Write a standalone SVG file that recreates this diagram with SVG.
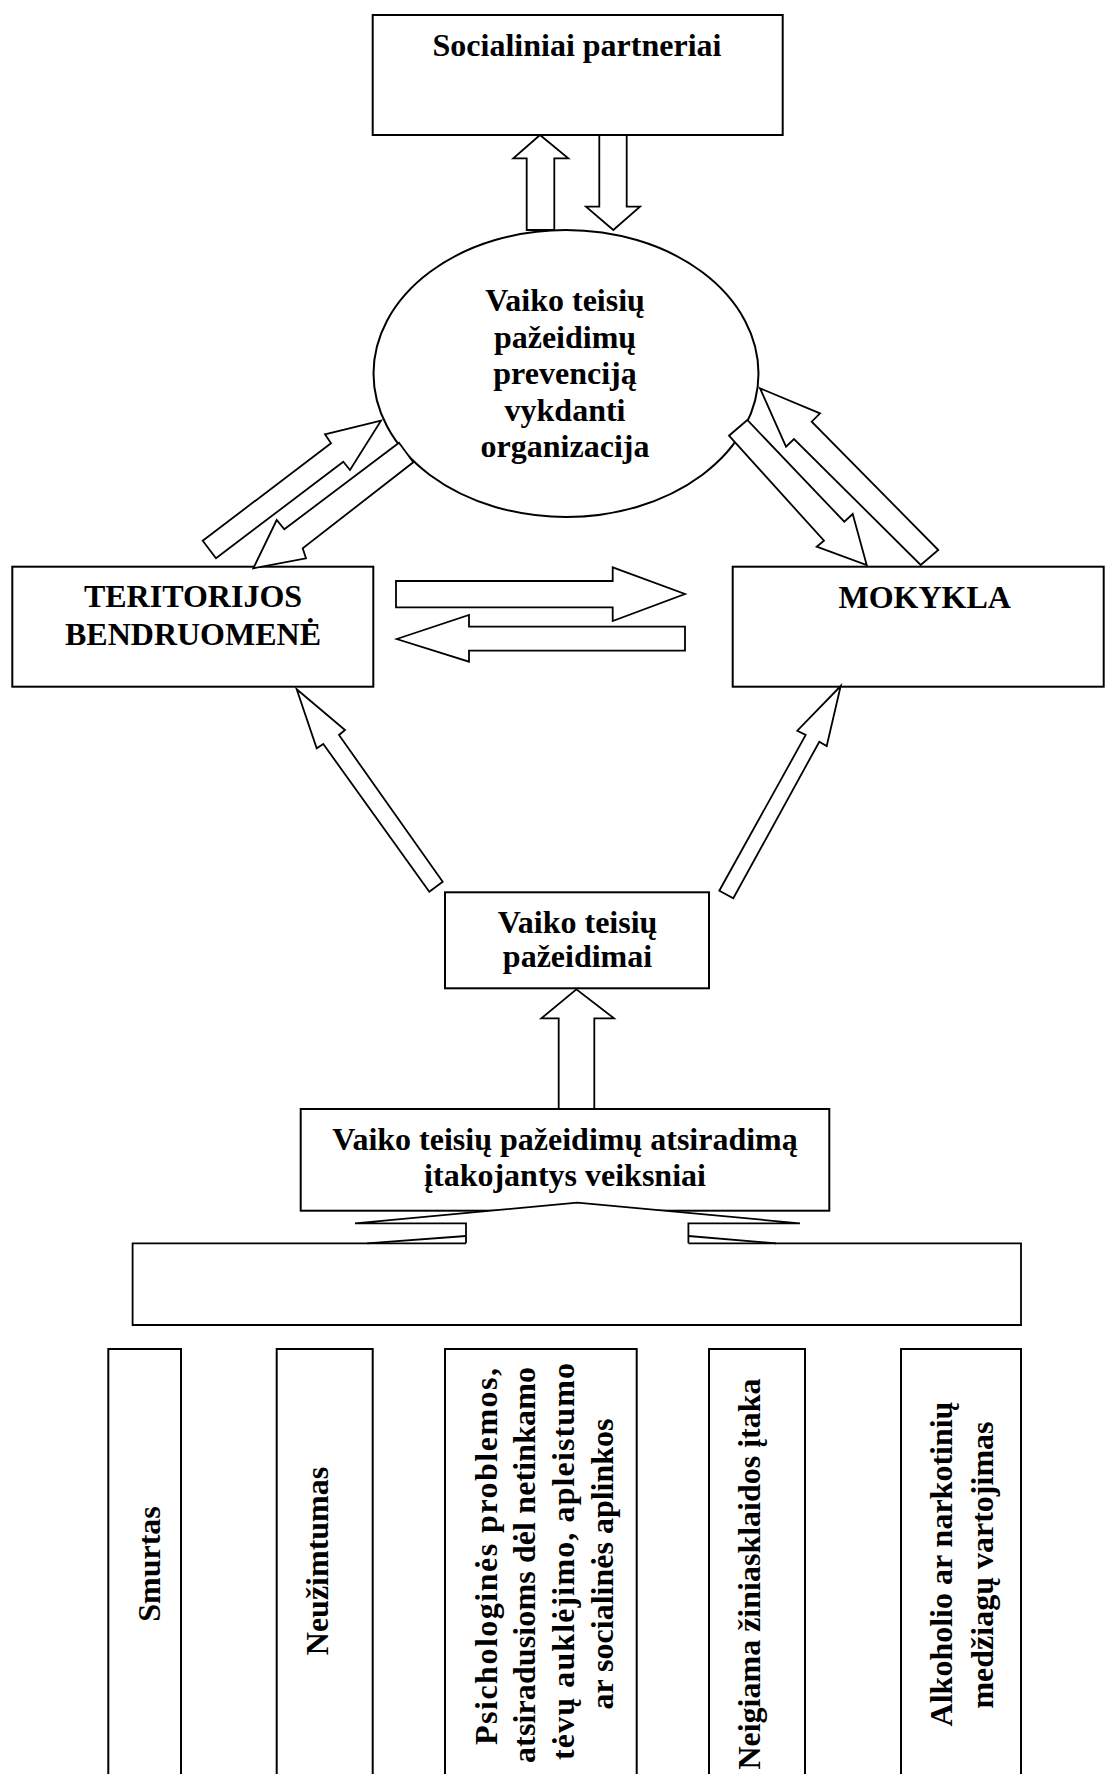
<svg xmlns="http://www.w3.org/2000/svg" width="1105" height="1774" viewBox="0 0 1105 1774">
<style>
.box{fill:#fff;stroke:#000;stroke-width:2}
.arr{fill:#fff;stroke:#000;stroke-width:1.8;stroke-linejoin:miter}
.ln{fill:none;stroke:#000;stroke-width:1.8}
text{font-family:"Liberation Serif","Times New Roman",serif;font-weight:bold;font-size:32px;fill:#000}
.c{text-anchor:middle}
</style>
<rect width="1105" height="1774" fill="#fff"/>

<g id="node-socialiniai">
<rect class="box" x="372.7" y="15" width="410" height="120"/>
<text class="c" x="577" y="56">Socialiniai partneriai</text>
</g>

<g id="node-organizacija">
<ellipse class="box" cx="566" cy="373.5" rx="192.5" ry="143.5"/>
<text class="c" x="565" y="310.7">Vaiko teisių</text>
<text class="c" x="565" y="347.5">pažeidimų</text>
<text class="c" x="565" y="384.3">prevenciją</text>
<text class="c" x="565" y="421">vykdanti</text>
<text class="c" x="565" y="457">organizacija</text>
</g>

<g id="node-teritorijos">
<rect class="box" x="12.3" y="566.7" width="361" height="120"/>
<text class="c" x="193" y="607">TERITORIJOS</text>
<text class="c" x="193" y="645">BENDRUOMENĖ</text>
</g>

<g id="node-mokykla">
<rect class="box" x="732.7" y="566.7" width="371" height="120"/>
<text class="c" x="924.7" y="608.3">MOKYKLA</text>
</g>

<g id="node-pazeidimai">
<rect class="box" x="445" y="892.3" width="264" height="96"/>
<text class="c" x="577.5" y="932.5">Vaiko teisių</text>
<text class="c" x="577.5" y="967.3">pažeidimai</text>
</g>

<g id="node-veiksniai">
<rect class="box" x="300.7" y="1109" width="528.6" height="101.7"/>
<text class="c" x="565" y="1150">Vaiko teisių pažeidimų atsiradimą</text>
<text class="c" x="565" y="1186">įtakojantys veiksniai</text>
</g>

<g id="node-bendras">
<path class="ln" d="M466,1243.3 L132.6,1243.3 L132.6,1325 L1021,1325 L1021,1243.3 L688.4,1243.3"/>
</g>

<g id="node-smurtas">
<rect class="box" x="108.3" y="1349" width="72.7" height="440"/>
<text class="c" transform="translate(160,1564) rotate(-90)">Smurtas</text>
</g>

<g id="node-neuzimtumas">
<rect class="box" x="276.7" y="1349" width="96" height="440"/>
<text class="c" transform="translate(328,1561) rotate(-90)">Neužimtumas</text>
</g>

<g id="node-psichologines">
<rect class="box" x="445" y="1349" width="191.7" height="440"/>
<text class="c" transform="translate(497,1556.5) rotate(-90)" textLength="377" lengthAdjust="spacing">Psichologinės problemos,</text>
<text class="c" transform="translate(535,1565) rotate(-90)" textLength="396" lengthAdjust="spacing">atsiradusioms dėl netinkamo</text>
<text class="c" transform="translate(574,1561.5) rotate(-90)" textLength="397" lengthAdjust="spacing">tėvų  auklėjimo, apleistumo</text>
<text class="c" transform="translate(613,1564) rotate(-90)">ar socialinės aplinkos</text>
</g>

<g id="node-ziniasklaida">
<rect class="box" x="709" y="1349" width="96" height="440"/>
<text class="c" transform="translate(760,1574) rotate(-90)">Neigiama žiniasklaidos įtaka</text>
</g>

<g id="node-alkoholis">
<rect class="box" x="901" y="1349" width="120" height="440"/>
<text class="c" transform="translate(951.7,1564) rotate(-90)">Alkoholio ar narkotinių</text>
<text class="c" transform="translate(993,1565) rotate(-90)">medžiagų vartojimas</text>
</g>

<g id="connectors">
<path class="arr" d="M526.7,230 L526.7,158.3 L513.3,158.3 L540,135 L568.3,158.3 L554.3,158.3 L554.3,230 Z"/>
<path class="arr" d="M599.3,135 L599.3,206.7 L586,206.7 L613.3,230 L640,206.7 L626.7,206.7 L626.7,135 Z"/>
<path class="arr" d="M202.7,540.7 L331,443.3 L325,434.3 L381,420.7 L350,470 L343.3,461.7 L216,558.3 Z"/>
<path class="arr" d="M399,442.7 L284.3,529.3 L276.7,520 L253.3,568.3 L306,558.3 L302.7,548.3 L413.3,462.3 Z"/>
<path class="arr" d="M729,435.7 L824,540.7 L816.7,546.7 L866.7,565 L852.7,514 L844.3,521.7 L747.3,420 Z"/>
<path class="arr" d="M760,388.3 L820,413.3 L811.7,421.7 L938.3,550 L920.7,565 L794,439 L786,446.7 Z"/>
<path class="arr" d="M396,581 L612.7,581 L612.7,567.3 L685,594 L612.7,621 L612.7,607.3 L396,607.3 Z"/>
<path class="arr" d="M396.7,639 L469,615 L469,626.7 L685,626.7 L685,650.7 L469,650.7 L469,661.7 Z"/>
<path class="arr" d="M296.7,689.3 L345,730 L339,735 L442.7,881.7 L429.3,891.7 L323.3,744 L316.7,748.3 Z"/>
<path class="arr" d="M840.7,686 L797.3,730.7 L805.7,735 L719.3,890.7 L733.3,898.3 L819.3,741.7 L826.7,746 Z"/>
<path class="arr" d="M558.7,1109 L558.7,1018.3 L541.4,1018.3 L576.4,989.3 L614,1018.3 L594.3,1018.3 L594.3,1109 Z"/>
<path class="arr" d="M466,1243.3 L466,1223.3 L355,1223.3 L577.3,1202.7 L800,1223.3 L688.4,1223.3 L688.4,1243.3"/>
<path class="ln" d="M466,1236 L367,1243.3 M688.4,1236 L776,1243.3"/>
</g>
</svg>
